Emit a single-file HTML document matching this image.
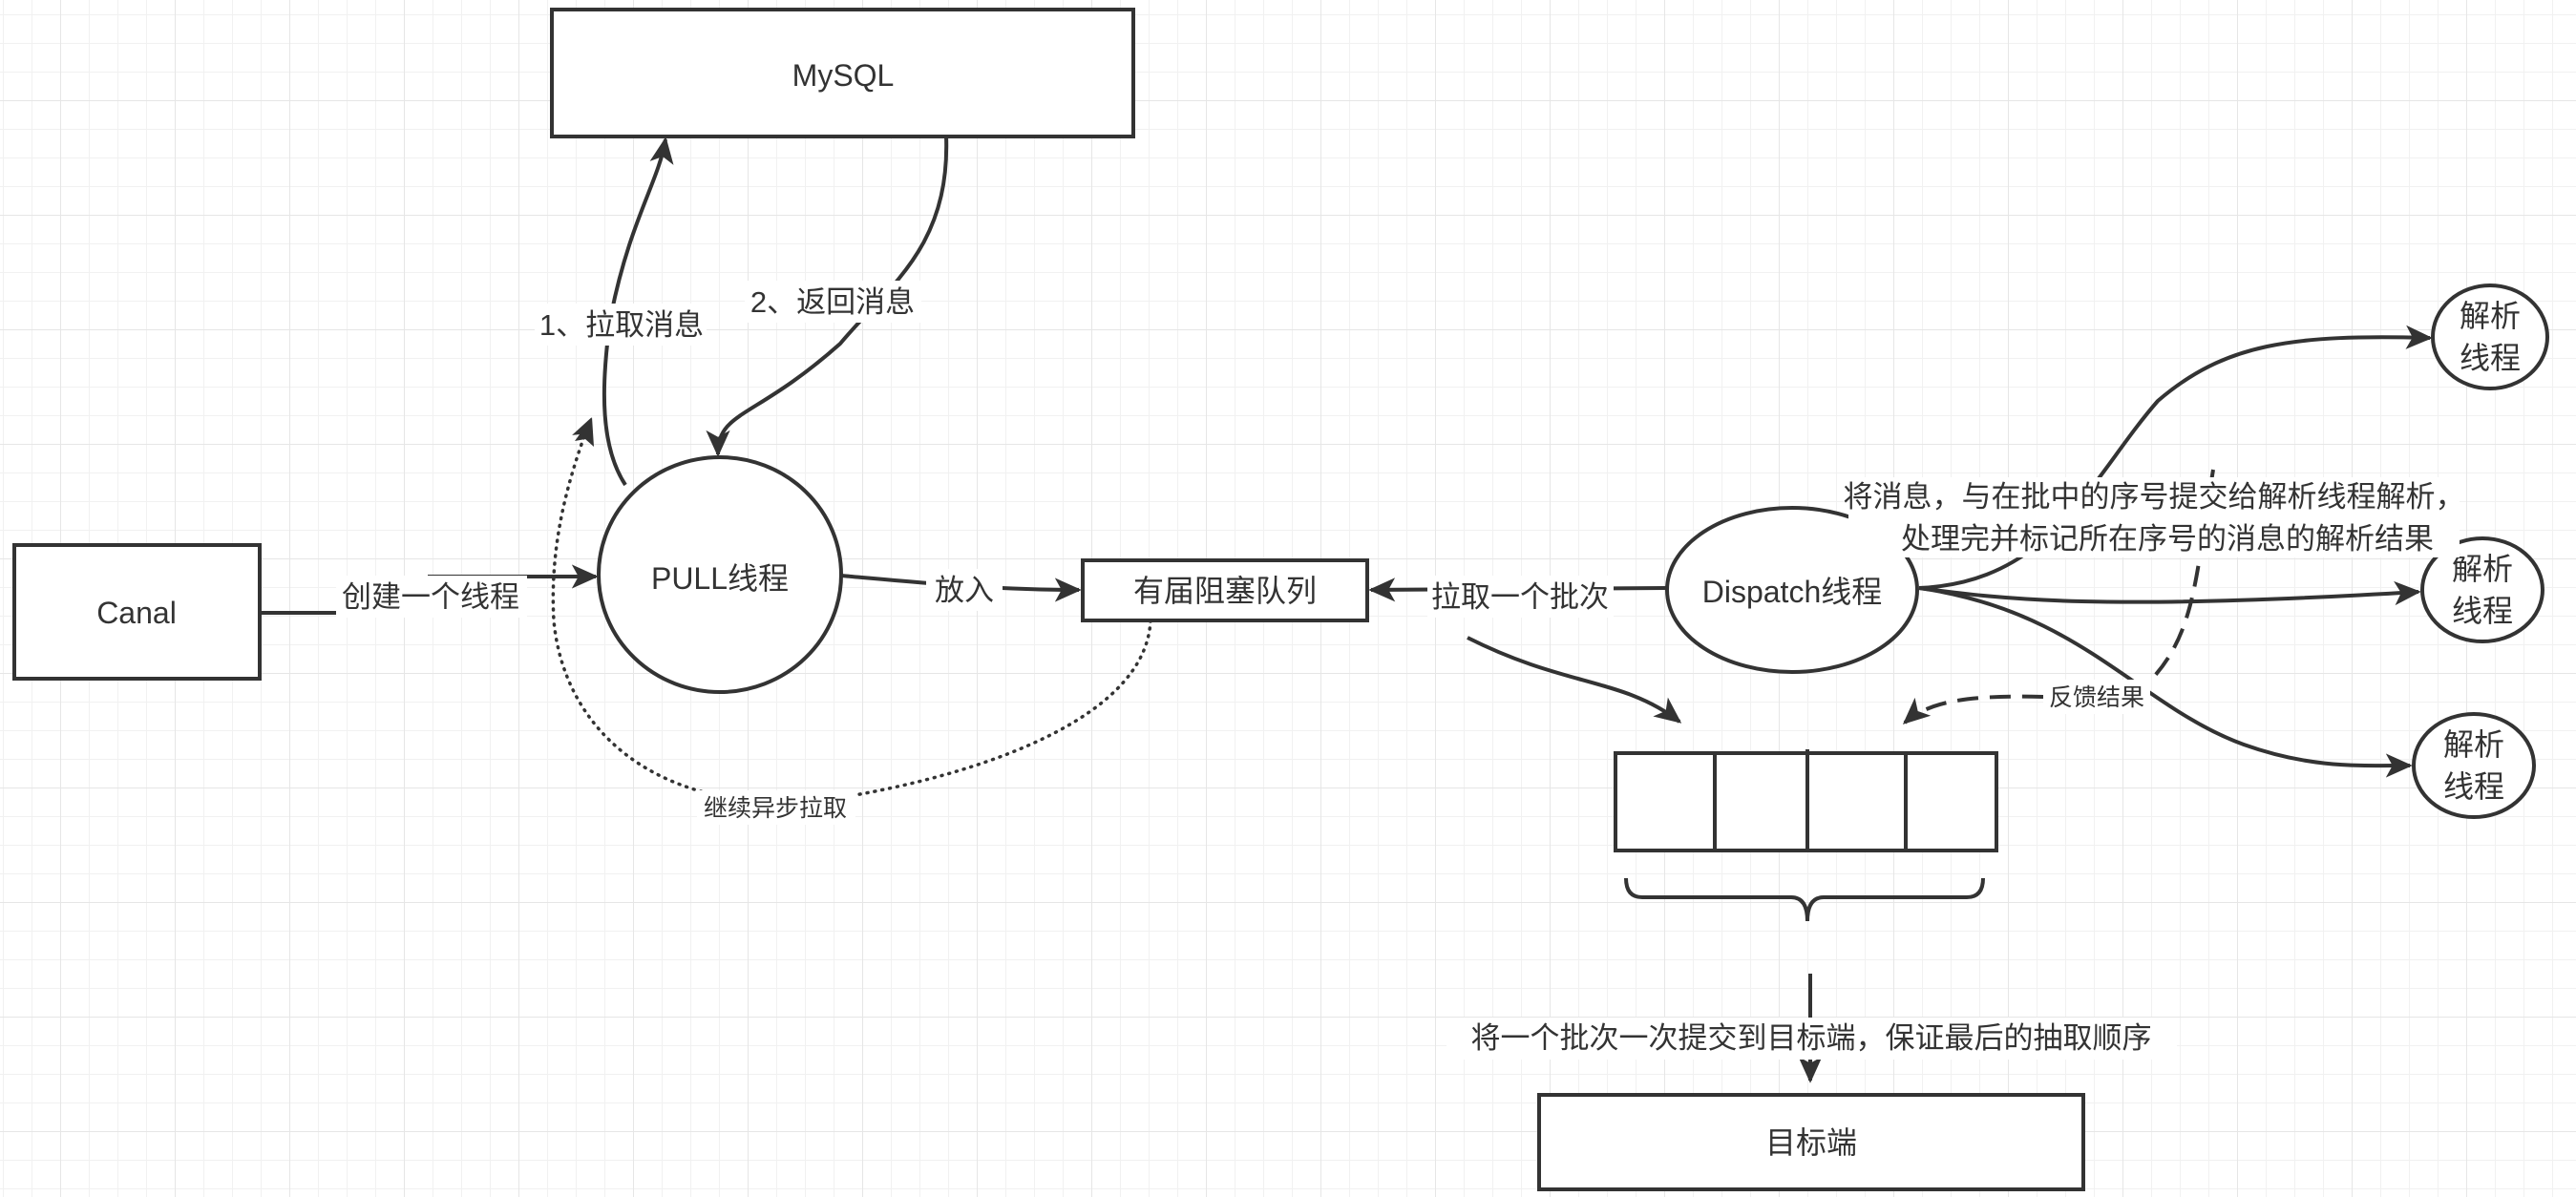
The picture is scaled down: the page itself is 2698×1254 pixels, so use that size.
<!DOCTYPE html>
<html><head><meta charset="utf-8"><style>
html,body{margin:0;padding:0;background:#fff}
svg{display:block}
text{font-family:"Liberation Sans","Noto Sans CJK SC",sans-serif;fill:#333}
</style></head><body>
<svg width="2698" height="1254" viewBox="0 0 2698 1254" xmlns="http://www.w3.org/2000/svg">
<defs>
<pattern id="minor" x="3" y="15" width="30" height="30" patternUnits="userSpaceOnUse">
<path d="M0 0V30M0 0H30" stroke="#f1f1f1" stroke-width="2" fill="none"/></pattern>
<pattern id="major" x="63" y="105" width="120" height="120" patternUnits="userSpaceOnUse">
<path d="M0 0V120M0 0H120" stroke="#e6e6e6" stroke-width="2" fill="none"/></pattern>
<marker id="ar" viewBox="0 0 10 10" refX="9" refY="5" markerWidth="7" markerHeight="7" orient="auto" markerUnits="strokeWidth">
<path d="M0 0.5L10 5L0 9.5L2.5 5z" fill="#333"/></marker>
</defs>
<rect width="2698" height="1254" fill="#fff"/>
<rect width="2698" height="1254" fill="url(#minor)"/>
<rect width="2698" height="1254" fill="url(#major)"/>

<g fill="none" stroke="#333" stroke-width="4">
<path d="M272 642 H450 V604 H624" marker-end="url(#ar)"/>
<path d="M881 603 C960 610 1040 618 1130 618" marker-end="url(#ar)"/>
<path d="M655 508 C630 470 628 410 640 330 C660 230 690 190 697 146" marker-end="url(#ar)"/>
<path d="M991 143 C995 260 930 300 880 360 C790 440 752 430 752 476" marker-end="url(#ar)"/>
<path d="M1746 616 L1436 618" marker-end="url(#ar)"/>
<path d="M1537 668 C1640 720 1700 710 1759 756" marker-end="url(#ar)"/>
<path d="M2010 616 C2150 610 2190 500 2260 420 C2330 360 2400 350 2545 354" marker-end="url(#ar)"/>
<path d="M2010 616 C2100 628 2200 640 2533 620" marker-end="url(#ar)"/>
<path d="M2010 616 C2180 640 2240 740 2350 780 C2420 805 2470 802 2524 802" marker-end="url(#ar)"/>
<path d="M2318 492 C2300 600 2300 660 2255 710" stroke-dasharray="22 12"/>
<path d="M2140 730 C2060 728 2020 735 1995 757" stroke-dasharray="22 12" marker-end="url(#ar)"/>
<path d="M1205 650 C1200 760 1000 820 850 840 C680 850 590 760 580 650 C575 560 600 490 618 440" stroke-width="3.5" stroke-dasharray="1 7" stroke-linecap="round"/>
<path d="M605 470 L618 440" marker-end="url(#ar)" stroke-width="3.5" stroke-opacity="0"/>
<path d="M1896 1020 V1132" marker-end="url(#ar)"/>
<rect x="578" y="10" width="609" height="133" fill="#fff"/>
<rect x="15" y="571" width="257" height="140" fill="#fff"/>
<ellipse cx="754" cy="602" rx="127" ry="123" fill="#fff"/>
<rect x="1134" y="587" width="298" height="63" fill="#fff"/>
<ellipse cx="1877" cy="618" rx="131" ry="86" fill="#fff"/>
<ellipse cx="2608" cy="353" rx="60" ry="54" fill="#fff"/>
<ellipse cx="2600" cy="618" rx="63" ry="54" fill="#fff"/>
<ellipse cx="2591" cy="802" rx="63" ry="54" fill="#fff"/>
<rect x="1692" y="789" width="399" height="102" fill="#fff"/>
<path d="M1796 789V891M1893 785V891M1996 789V891"/>
<path d="M1703 920 Q1703 940 1720 940 H1876 Q1893 940 1893 965 Q1893 940 1910 940 H2060 Q2077 940 2077 920"/>
<rect x="1612" y="1147" width="570" height="99" fill="#fff"/>
</g>
<path d="M602 462 L620 437 L622 468 L613 460z" fill="#333"/>

<g font-size="32" text-anchor="middle">
<text x="883" y="90">MySQL</text>
<text x="143" y="653">Canal</text>
<text x="754" y="617">PULL线程</text>
<text x="1283" y="630">有届阻塞队列</text>
<text x="1877" y="631">Dispatch线程</text>
<text x="2608" y="342">解析</text><text x="2608" y="386">线程</text>
<text x="2600" y="607">解析</text><text x="2600" y="651">线程</text>
<text x="2591" y="791">解析</text><text x="2591" y="835">线程</text>
<text x="1897" y="1208">目标端</text>
</g>

<g font-size="31" text-anchor="middle">
<rect x="352" y="603" width="200" height="44" fill="#fff"/><text x="451" y="636">创建一个线程</text>
<rect x="970" y="596" width="80" height="44" fill="#fff"/><text x="1010" y="629">放入</text>
<rect x="560" y="318" width="180" height="44" fill="#fff"/><text x="651" y="351">1、拉取消息</text>
<rect x="780" y="294" width="185" height="44" fill="#fff"/><text x="872" y="327">2、返回消息</text>
<rect x="1495" y="603" width="195" height="44" fill="#fff"/><text x="1592" y="636">拉取一个批次</text>
<rect x="1936" y="500" width="640" height="84" fill="#fff"/>
<text x="2256" y="531">将消息，与在批中的序号提交给解析线程解析，</text>
<text x="2270" y="575">处理完并标记所在序号的消息的解析结果</text>
<rect x="1515" y="1066" width="765" height="44" fill="#fff"/><text x="1897" y="1098">将一个批次一次提交到目标端，保证最后的抽取顺序</text>
</g>
<g font-size="25" text-anchor="middle">
<rect x="730" y="828" width="166" height="36" fill="#fff"/><text x="812" y="855">继续异步拉取</text>
<rect x="2140" y="712" width="112" height="36" fill="#fff"/><text x="2196" y="739">反馈结果</text>
</g>
</svg>
</body></html>
